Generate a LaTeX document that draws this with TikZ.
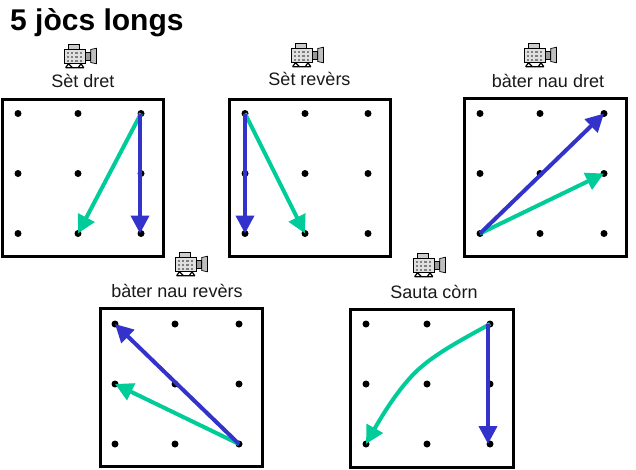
\documentclass[tikz,border=0pt]{standalone}
\usepackage{fontspec}
\setmainfont{Liberation Sans}
\usetikzlibrary{arrows.meta}
\definecolor{arblue}{RGB}{51,51,204}
\definecolor{argreen}{RGB}{0,204,153}
\tikzset{
  x=1pt,y=-1pt,
  frame/.style={draw=black,line width=3pt},
  gdot/.style={circle,fill=black,inner sep=0pt,minimum size=7pt},
  blue arrow/.style={draw=arblue,line width=4pt,-{Triangle[length=18pt,width=18pt]}},
  green arrow/.style={draw=argreen,line width=4pt,-{Triangle[length=18pt,width=18pt]}},
  cap text/.style={font=\fontsize{18}{20}\selectfont,text=black!90,inner sep=0pt},
  title text/.style={font=\bfseries\fontsize{30}{32}\selectfont,inner sep=0pt,anchor=west}
}
% #1 name, #2-#5 frame l,t,r,b, #6,#7,#8 dot x, #9 first dot y
\newcommand{\gridbox}[9]{%
  \path[frame] (#2,#3) rectangle (#4,#5);
  \foreach \c/\xx in {1/#6,2/#7,3/#8}{
    \foreach \r/\dy in {1/0,2/60,3/120}{
      \node[gdot] (#1\r\c) at (\xx,#9+\dy) {};
    }
  }%
}
\newcommand{\camera}[2]{%
  \begin{scope}[shift={(#1,#2)},x=1.4pt,y=-1.3pt]
    \fill[black!12] (-12,-5) rectangle (3,6);
    \foreach \a in {-10,-7,...,0}{\foreach \b in {-3,0,3}{\fill[black!50] (\a,\b) rectangle ++(1.5,1.5);}}
    \draw[black,line width=1pt] (-12,-5) rectangle (3,6);
    \fill[black!20] (-9,-9) rectangle (-1,-5);
    \draw[black,line width=1pt] (-9,-9) rectangle (-1,-5);
    \fill[black!40] (3,-3) rectangle (7,3);
    \draw[black,line width=.8pt] (3,-3) rectangle (7,3);
    \fill[black!25] (7,-5) -- (11,-6) -- (11,6) -- (7,5) -- cycle;
    \draw[black,line width=.7pt] (7,-5) -- (11,-6) -- (11,6) -- (7,5) -- cycle;
    \draw[black,line width=1.2pt] (-9,6) -- (-11,9) (-9,6) -- (-6,9) (0,6) -- (-2,9) (0,6) -- (2,9) (-11,9) -- (2,9);
  \end{scope}%
}
\begin{document}
\begin{tikzpicture}
\useasboundingbox (0,0) rectangle (636,469);
\fill[white] (0,0) rectangle (636,469);
\node[title text] (title) at (10,23) {5 jòcs longs};

\camera{81}{56}\camera{308}{55}\camera{541}{55}\camera{192}{264}\camera{430}{265}

\node[cap text] (c1) at (83,81) {Sèt dret};
\node[cap text] (c2) at (309.5,79) {Sèt revèrs};
\node[cap text] (c3) at (548,81) {bàter nau dret};
\node[cap text] (c4) at (177,291) {bàter nau revèrs};
\node[cap text] (c5) at (434,292) {Sauta còrn};

\gridbox{a}{2}{99}{163}{256}{18}{78}{141}{113.5}
\gridbox{b}{229}{99}{390}{256}{245}{305}{368}{113.5}
\gridbox{c}{464}{98}{626}{256}{480}{540}{604}{113.5}
\gridbox{d}{100}{308}{262}{466}{115}{175}{239}{324}
\gridbox{e}{350}{309}{513}{467}{366}{427}{490}{324}

\draw[green arrow] (a13.center) -- (a32.center);
\draw[blue arrow] ([xshift=-1pt]a13.center) -- ([xshift=-1pt]a33.center);

\draw[green arrow] (b11.center) -- (b32.center);
\draw[blue arrow] (b11.center) -- (b31.center);

\draw[green arrow] (c31.center) -- (c23.center);
\draw[blue arrow] (c31.center) -- (c13.center);

\draw[green arrow] (d33.center) -- (d21.center);
\draw[blue arrow] (d33.center) -- (d11.center);

\draw[green arrow] (e13.center) .. controls (465,338) and (438,352) .. (420,368) .. controls (405,381) and (388,405) .. (e31.center);
\draw[blue arrow] ([xshift=-2pt]e13.center) -- ([xshift=-2pt]e33.center);
\end{tikzpicture}
\end{document}
